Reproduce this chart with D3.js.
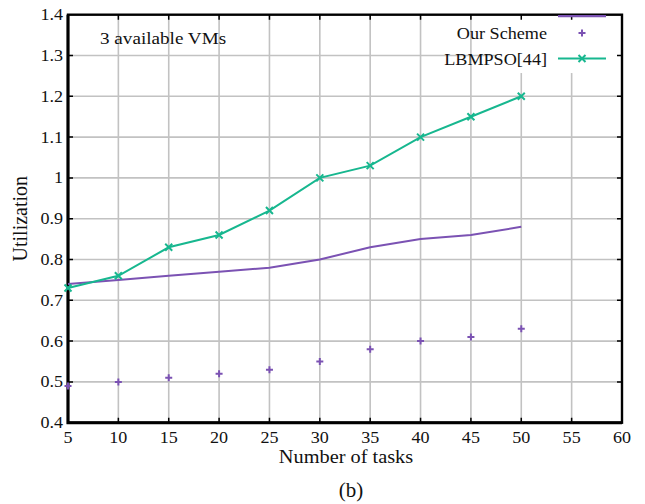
<!DOCTYPE html>
<html>
<head>
<meta charset="utf-8">
<script src="https://cdn.jsdelivr.net/npm/d3@7"></script>
<style>
  body { margin: 0; background: #fff; }
  text { font-family: "Liberation Serif", "Times New Roman", serif; fill: #111; }
</style>
</head>
<body>
<svg id="chart" width="645" height="504"></svg>
<script>
// data
const tasks = [5, 10, 15, 20, 25, 30, 35, 40, 45, 50]
const ourSchemePts = [0.49, 0.50, 0.51, 0.52, 0.53, 0.55, 0.58, 0.60, 0.61, 0.63]
const ourSchemeLine = [0.74, 0.75, 0.76, 0.77, 0.78, 0.80, 0.83, 0.85, 0.86, 0.88]
const lbmpso = [0.73, 0.76, 0.83, 0.86, 0.92, 1.00, 1.03, 1.10, 1.15, 1.20]
const xTicks = [5, 10, 15, 20, 25, 30, 35, 40, 45, 50, 55, 60]
const yTicks = [0.4, 0.5, 0.6, 0.7, 0.8, 0.9, 1, 1.1, 1.2, 1.3, 1.4]
const yTickLabels = ["0.4", "0.5", "0.6", "0.7", "0.8", "0.9", "1", "1.1", "1.2", "1.3", "1.4"]

const purple = "#7b52b3"
const green = "#17b78f"
const grid = "#c2c2c2"
const sx = 1.13 // the original's text is stretched sideways

const svg = d3.select("#chart")
const m = {left: 68, right: 23, top: 14.7, bottom: 81.3}
const W = 645 - m.left - m.right
const H = 504 - m.top - m.bottom

const x = d3.scaleLinear().domain([5, 60]).range([0, W])
const y = d3.scaleLinear().domain([0.4, 1.4]).range([H, 0])

const g = svg.append("g").attr("transform", `translate(${m.left},${m.top})`)

function label(parent, tx, ty, str, size, anchor, stretch) {
  return parent.append("text")
    .attr("transform", `translate(${tx},${ty}) scale(${stretch},1)`)
    .attr("text-anchor", anchor)
    .style("font-size", size + "px")
    .text(str)
}

// grid
g.append("g").selectAll("line").data(xTicks.slice(1, -1)).join("line")
  .attr("x1", d => x(d)).attr("x2", d => x(d))
  .attr("y1", 0).attr("y2", H)
  .attr("stroke", grid).attr("stroke-width", 1.6)
g.append("g").selectAll("line").data(yTicks.slice(1, -1)).join("line")
  .attr("y1", d => y(d)).attr("y2", d => y(d))
  .attr("x1", 0).attr("x2", W)
  .attr("stroke", grid).attr("stroke-width", 1.6)

// legend box hides the grid behind it
const legX = x(47.55)
g.append("rect")
  .attr("x", legX).attr("y", 0)
  .attr("width", W - legX).attr("height", y(1.257))
  .attr("fill", "#fff")

// inward ticks on all four sides
const tk = 5
g.append("g").selectAll("path").data(xTicks.slice(1, -1)).join("path")
  .attr("d", d => `M${x(d)},${H}v${-tk}M${x(d)},0v${tk}`)
  .attr("stroke", "#000").attr("stroke-width", 1.5)
g.append("g").selectAll("path").data(yTicks.slice(1, -1)).join("path")
  .attr("d", d => `M0,${y(d)}h${tk}M${W},${y(d)}h${-tk}`)
  .attr("stroke", "#000").attr("stroke-width", 1.5)

// frame
g.append("rect")
  .attr("x", 0).attr("y", 0).attr("width", W).attr("height", H)
  .attr("fill", "none").attr("stroke", "#000").attr("stroke-width", 2.4)
g.append("path").attr("d", `M0,0V${H}H${W}`)
  .attr("fill", "none").attr("stroke", "#000").attr("stroke-width", 3)

// tick labels
xTicks.forEach(d => label(g, x(d), H + 20, d, 16, "middle", sx))
yTicks.forEach((d, i) => label(g, -5, y(d) + 5.5, yTickLabels[i], 16, "end", sx))

// axis titles
label(g, W / 2 + 1, H + 40, "Number of tasks", 18, "middle", 1.13)
g.append("text")
  .attr("transform", `translate(${27 - m.left},${H / 2}) rotate(-90)`)
  .attr("text-anchor", "middle")
  .style("font-size", "20px")
  .text("Utilization")
label(svg, 351, 497, "(b)", 20, "middle", 1.05)
label(g, 100 - m.left, 43.5 - m.top, "3 available VMs", 16.5, "start", 1.16)

// series
const line = d3.line().x(d => x(d[0])).y(d => y(d[1]))
const ourLineData = tasks.map((t, i) => [t, ourSchemeLine[i]])
const lbData = tasks.map((t, i) => [t, lbmpso[i]])
const ourPtData = tasks.map((t, i) => [t, ourSchemePts[i]])

g.append("path").datum(ourLineData).attr("d", line)
  .attr("fill", "none").attr("stroke", purple).attr("stroke-width", 2)
g.append("path").datum(lbData).attr("d", line)
  .attr("fill", "none").attr("stroke", green).attr("stroke-width", 2)

const plus = (cx, cy, r) => `M${cx - r},${cy}h${2 * r}M${cx},${cy - r}v${2 * r}`
const cross = (cx, cy, r) => `M${cx - r},${cy - r}L${cx + r},${cy + r}M${cx - r},${cy + r}L${cx + r},${cy - r}`

g.append("g").selectAll("path").data(ourPtData).join("path")
  .attr("d", d => plus(x(d[0]), y(d[1]), 3.5))
  .attr("stroke", purple).attr("stroke-width", 2)
g.append("g").selectAll("path").data(lbData).join("path")
  .attr("d", d => cross(x(d[0]), y(d[1]), 3.5))
  .attr("stroke", green).attr("stroke-width", 2)

// legend
const lx1 = 558 - m.left, lx2 = 606 - m.left, lmid = (lx1 + lx2) / 2
g.append("line").attr("x1", lx1).attr("x2", lx2).attr("y1", 1.5).attr("y2", 1.5)
  .attr("stroke", purple).attr("stroke-width", 2.2)
label(g, 547 - m.left, 38.5 - m.top, "Our Scheme", 16.5, "end", 1.1)
g.append("path").attr("d", plus(lmid, 33 - m.top, 3.5))
  .attr("stroke", purple).attr("stroke-width", 2)
label(g, 547 - m.left, 64.5 - m.top, "LBMPSO[44]", 16.5, "end", 1.1)
g.append("line").attr("x1", lx1).attr("x2", lx2).attr("y1", 58.5 - m.top).attr("y2", 58.5 - m.top)
  .attr("stroke", green).attr("stroke-width", 2)
g.append("path").attr("d", cross(lmid, 58.5 - m.top, 3.5))
  .attr("stroke", green).attr("stroke-width", 2)
</script>
</body>
</html>
